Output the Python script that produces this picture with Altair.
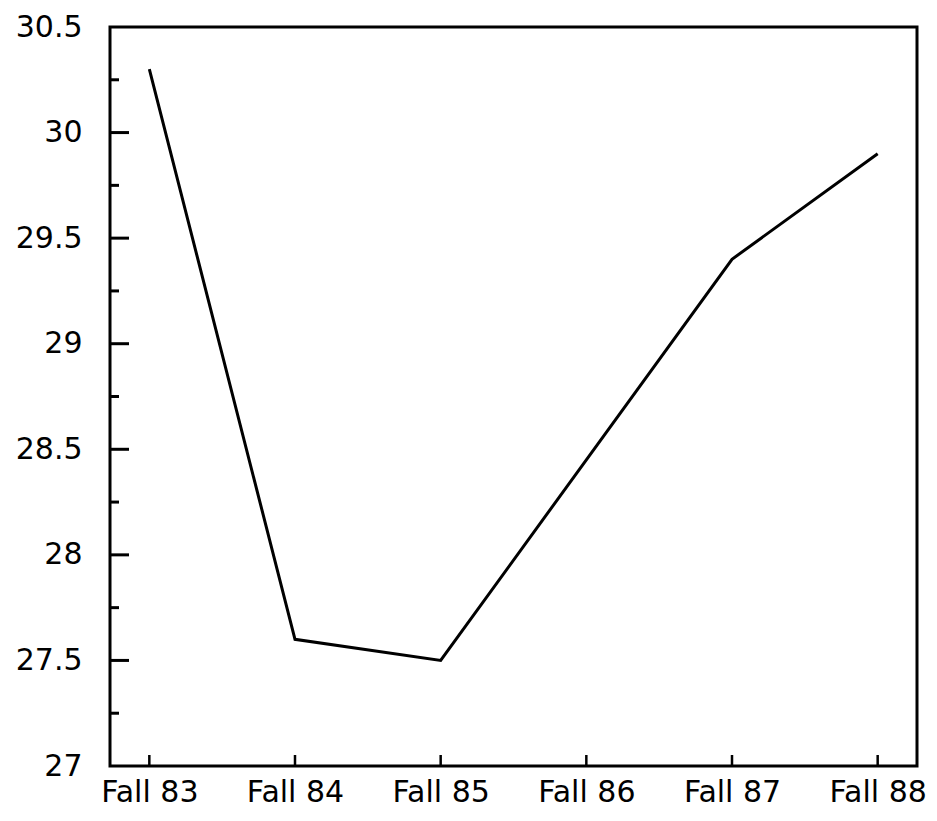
import altair as alt
import pandas as pd

terms = ["Fall 83", "Fall 84", "Fall 85", "Fall 86", "Fall 87", "Fall 88"]
values = [30.3, 27.6, 27.5, 28.45, 29.4, 29.9]
major_ticks = [27.5, 28.0, 28.5, 29.0, 29.5, 30.0]
minor_ticks = [27.25, 27.75, 28.25, 28.75, 29.25, 29.75, 30.25]
label_values = [27.0, 27.5, 28.0, 28.5, 29.0, 29.5, 30.0, 30.5]

df = pd.DataFrame({"term": terms, "value": values})
df_major = pd.DataFrame({"tick": major_ticks})
df_minor = pd.DataFrame({"tick": minor_ticks})

FONT = "DejaVu Sans"
W, H = 807, 739

xscale = alt.Scale(type="point", domain=terms, padding=0.27)
yscale = alt.Scale(domain=[27, 30.5], nice=False, zero=False)

line = alt.Chart(df).mark_line(color="black", strokeWidth=3).encode(
    x=alt.X("term:N", scale=xscale, sort=terms,
            axis=alt.Axis(title=None, labelAngle=0, ticks=False, tickSize=0, domain=False,
                          labelFont=FONT, labelFontSize=30, labelColor="black",
                          labelPadding=11, labelBaseline="top", grid=False)),
    y=alt.Y("value:Q", scale=yscale,
            axis=alt.Axis(title=None, values=label_values, format="~g", ticks=False, tickSize=0,
                          domain=False, grid=False, labelFont=FONT, labelFontSize=30,
                          labelColor="black", labelPadding=28, labelBaseline="middle")),
)

major = alt.Chart(df_major).mark_rule(color="black", strokeWidth=3).encode(
    y=alt.Y("tick:Q", scale=yscale), x=alt.value(0), x2=alt.value(19))

minor = alt.Chart(df_minor).mark_rule(color="black", strokeWidth=3).encode(
    y=alt.Y("tick:Q", scale=yscale), x=alt.value(0), x2=alt.value(9))

xticks = alt.Chart(df).mark_rule(color="black", strokeWidth=2.5).encode(
    x=alt.X("term:N", scale=xscale, sort=terms), y=alt.value(H - 11), y2=alt.value(H)
)

chart = alt.layer(line, minor, major, xticks).properties(
    width=W, height=H,
    autosize=alt.AutoSizeParams(type="none"),
    padding={"left": 102, "top": 19, "right": 12, "bottom": 47},
    background="white",
).configure_view(stroke="black", strokeWidth=3)

chart.save("out.html", embed_options={"renderer": "svg", "actions": False})
